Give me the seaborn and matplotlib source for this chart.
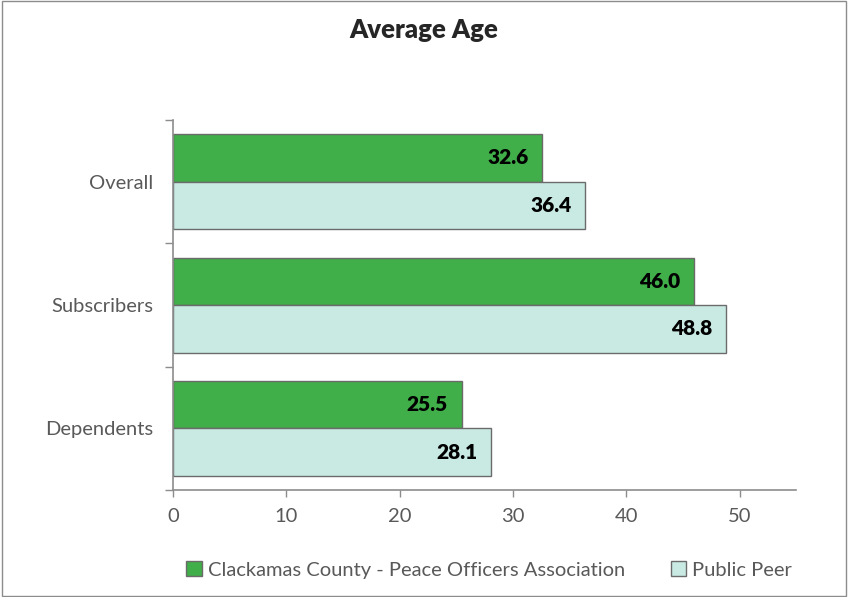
import pandas as pd
import numpy as np
import matplotlib.pyplot as plt
import seaborn as sns
from matplotlib.patches import Patch, Rectangle

sns.set_style("white")
plt.rcParams['font.family'] = ['Lato', 'DejaVu Sans']

# data
categories = ['Overall', 'Subscribers', 'Dependents']
series_names = ['Clackamas County - Peace Officers Association', 'Public Peer']
clackamas = [32.6, 46.0, 25.5]
public_peer = [36.4, 48.8, 28.1]
series_colors = ['#40AE49', '#C9E9E3']

df = pd.DataFrame({
    'Category': categories * 2,
    'Series': [series_names[0]] * 3 + [series_names[1]] * 3,
    'Age': clackamas + public_peer,
})

fig = plt.figure(figsize=(8.48, 5.97), dpi=100)
ax = fig.add_axes([0.204, 0.179, 0.735, 0.62])

sns.barplot(data=df, x='Age', y='Category', hue='Series', orient='h',
            palette=series_colors, width=0.77, edgecolor='#6b6b6b',
            linewidth=1.0, legend=False, ax=ax, saturation=1)

# value labels inside bar ends
for container in ax.containers:
    for bar in container:
        w = bar.get_width()
        ax.annotate(f'{w:.1f}', (w, bar.get_y() + bar.get_height() / 2),
                    xytext=(-10, 0), textcoords='offset points',
                    ha='right', va='center', fontsize=15,
                    fontweight='heavy', color='black')

ax.set_xlim(0, 55)
ax.set_ylim(2.5, -0.5)
ax.set_xticks(range(0, 51, 10))
ax.set_xlabel('')
ax.set_ylabel('')

for side in ['top', 'right']:
    ax.spines[side].set_visible(False)
for side in ['left', 'bottom']:
    ax.spines[side].set_color('#8c8c8c')
    ax.spines[side].set_linewidth(1.2)

ax.tick_params(axis='x', direction='out', length=5, width=1, color='#8c8c8c',
               labelsize=14.5, labelcolor='#595959', pad=8, bottom=True)
ax.tick_params(axis='y', which='major', length=0, labelsize=14.5,
               labelcolor='#595959', pad=14)
ax.set_yticks([-0.5, 0.5, 1.5, 2.5], minor=True)
ax.tick_params(axis='y', which='minor', direction='out', length=6, width=1,
               color='#8c8c8c', left=True)

fig.suptitle('Average Age', fontsize=18.5, fontweight='heavy', y=0.97)

handles = [Patch(facecolor=c, edgecolor='#6b6b6b', label=n)
           for c, n in zip(series_colors, series_names)]
fig.legend(handles=handles, loc='center', bbox_to_anchor=(0.577, 0.045),
           ncol=2, frameon=False, fontsize=14.5, handlelength=0.75,
           handleheight=0.75, handletextpad=0.3, columnspacing=2.3,
           labelcolor='#595959')

# outer frame
fig.patches.append(Rectangle((0.002, 0.002), 0.996, 0.996, transform=fig.transFigure,
                             fill=False, edgecolor='#8c8c8c', linewidth=1))

plt.savefig('out.png', dpi=100)
